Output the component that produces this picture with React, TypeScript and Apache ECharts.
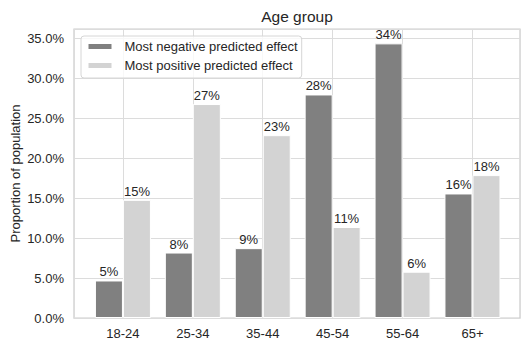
import React, { useEffect, useRef } from "react";
import * as echarts from "echarts";

const categories = ["18-24", "25-34", "35-44", "45-54", "55-64", "65+"];
const negativeValues = [0.047, 0.082, 0.0875, 0.28, 0.344, 0.156];
const positiveValues = [0.148, 0.268, 0.229, 0.114, 0.058, 0.179];
const seriesNames = ["Most negative predicted effect", "Most positive predicted effect"];
const yTicks = { min: 0, max: 0.362, interval: 0.05 };

const FONT = "'Liberation Sans', Arial, sans-serif";
const TEXT = "#262626";

export default function App() {
  const ref = useRef<HTMLDivElement>(null);
  useEffect(() => {
    if (!ref.current) return;
    const chart = echarts.init(ref.current, undefined, { renderer: "svg" });
    const label = {
      show: true,
      position: "top" as const,
      distance: 2,
      fontFamily: FONT,
      fontSize: 13,
      color: TEXT,
      formatter: (p: any) => Math.round(p.value[1] * 100) + "%",
    };
    chart.setOption({
      animation: false,
      textStyle: { fontFamily: FONT },
      graphic: [
        {
          type: "text",
          x: 297,
          y: 16,
          style: {
            text: "Age group",
            align: "center",
            verticalAlign: "middle",
            fontFamily: FONT,
            fontSize: 15.5,
            fill: TEXT,
          },
        },
      ],
      grid: {
        left: 74,
        right: 10,
        top: 29,
        bottom: 32,
        outerBoundsMode: "none",
        containLabel: false,
        show: true,
        borderColor: "#cccccc",
        borderWidth: 1.25,
        backgroundColor: "#ffffff",
      },
      legend: {
        orient: "vertical",
        left: 81,
        top: 36,
        itemWidth: 25,
        itemHeight: 7,
        itemGap: 4,
        icon: "rect",
        padding: [3, 4, 5, 5.5],
        backgroundColor: "rgba(255,255,255,0.8)",
        borderColor: "#d6d6d6",
        borderWidth: 1,
        borderRadius: 3,
        textStyle: {
          fontFamily: FONT,
          fontSize: 13,
          color: TEXT,
          lineHeight: 15,
          padding: [0, 0, 0, 7],
        },
        data: seriesNames,
      },
      xAxis: {
        type: "value",
        min: -0.7,
        max: 5.68,
        minInterval: 1,
        maxInterval: 1,
        axisLine: { show: false },
        axisTick: { show: false },
        axisLabel: {
          showMinLabel: false,
          showMaxLabel: false,
          fontFamily: FONT,
          fontSize: 13,
          color: TEXT,
          margin: 9,
          formatter: (v: number) => (Number.isInteger(v) && categories[v] !== undefined ? categories[v] : ""),
        },
        splitLine: { show: true, lineStyle: { color: "#dcdcdc", width: 1 } },
      },
      yAxis: {
        type: "value",
        min: yTicks.min,
        max: yTicks.max,
        interval: yTicks.interval,
        name: "Proportion of population",
        nameLocation: "middle",
        nameRotate: 90,
        nameGap: 52,
        nameMoveOverlap: false,
        nameTextStyle: { fontFamily: FONT, fontSize: 13, color: TEXT },
        axisLine: { show: false },
        axisTick: { show: false },
        axisLabel: {
          showMaxLabel: false,
          fontFamily: FONT,
          fontSize: 13,
          color: TEXT,
          margin: 10,
          formatter: (v: number) => (v * 100).toFixed(1) + "%",
        },
        splitLine: { show: true, lineStyle: { color: "#dcdcdc", width: 1 } },
      },
      series: [
        {
          name: seriesNames[0],
          type: "bar",
          barWidth: 28,
          barGap: "0%",
          data: negativeValues.map((v, i) => [i, v]),
          itemStyle: { color: "#808080", borderColor: "#ffffff", borderWidth: 1 },
          label,
        },
        {
          name: seriesNames[1],
          type: "bar",
          barWidth: 28,
          barGap: "0%",
          data: positiveValues.map((v, i) => [i, v]),
          itemStyle: { color: "#d3d3d3", borderColor: "#ffffff", borderWidth: 1 },
          label,
        },
      ],
    });
    return () => chart.dispose();
  }, []);
  return (
    <div
      ref={ref}
      style={{ position: "fixed", left: 0, top: 0, width: 530, height: 350, background: "#ffffff" }}
    />
  );
}
